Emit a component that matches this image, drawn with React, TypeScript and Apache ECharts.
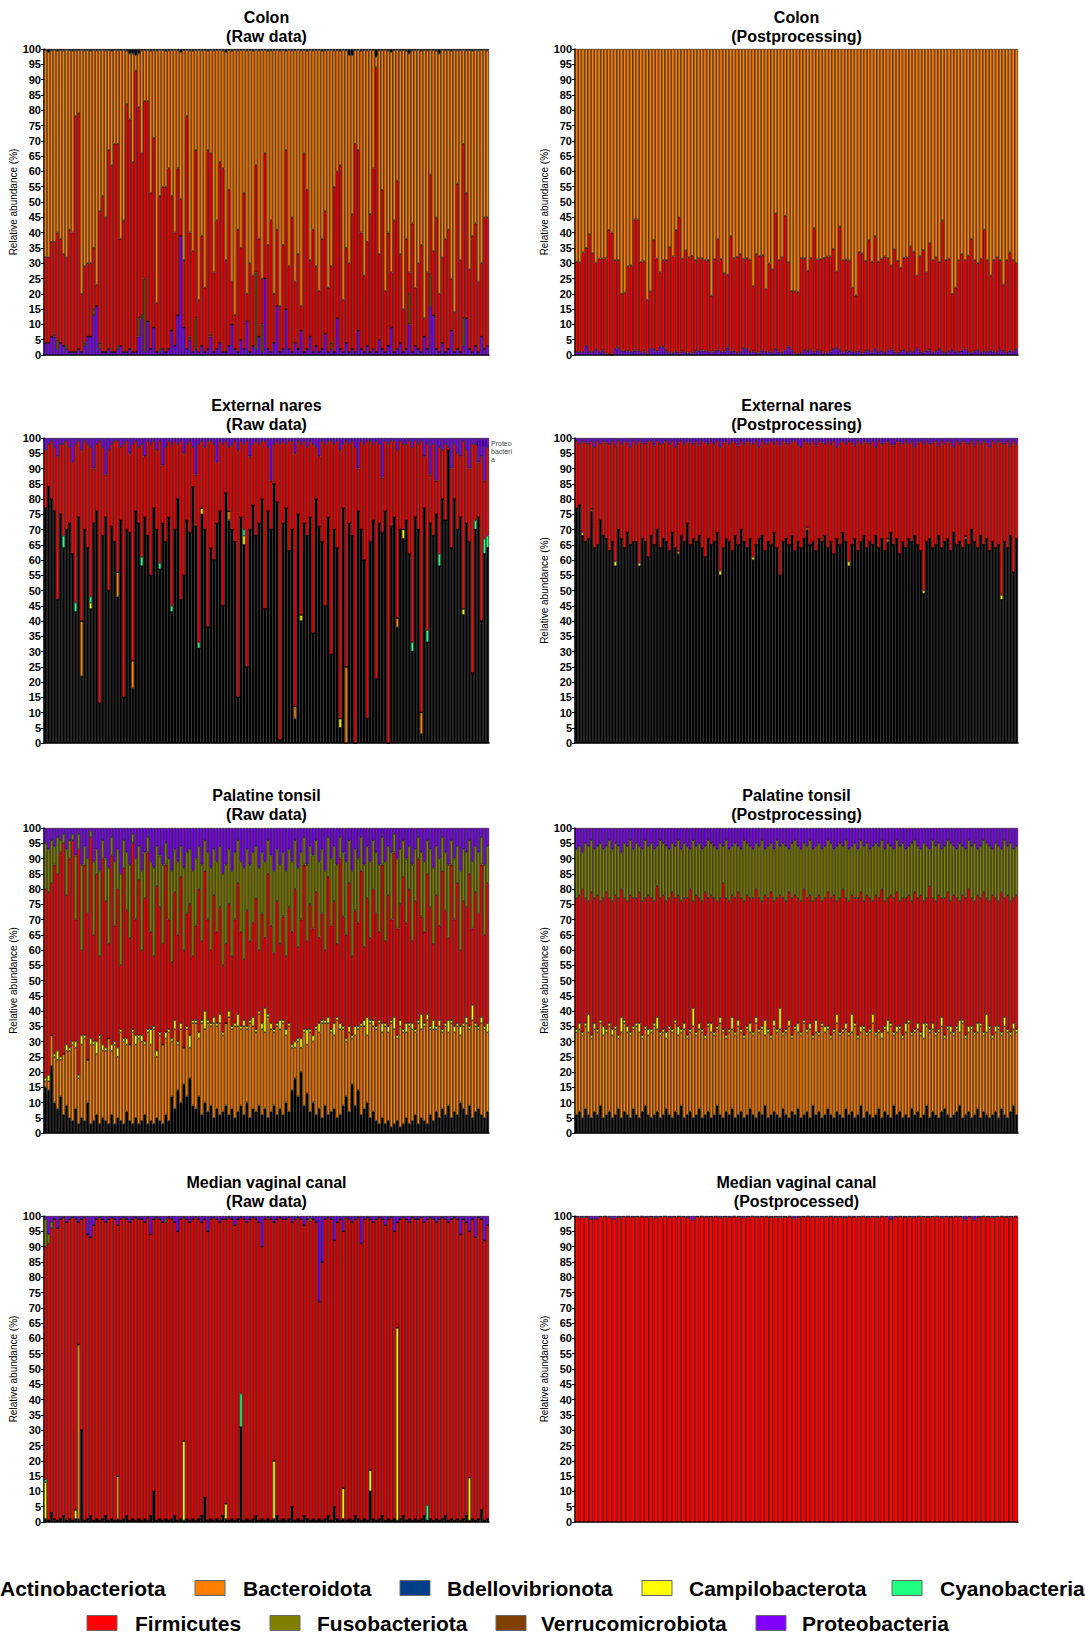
import React, { useEffect, useRef } from "react";
import * as echarts from "echarts";

const FONT = '"Liberation Sans", Arial, Helvetica, sans-serif';

const COLORS: Record<string, string> = {
  Actinobacteriota: "#000000",
  Bacteroidota: "#FF8000",
  Bdellovibrionota: "#003F87",
  Campilobacterota: "#FFFF00",
  Cyanobacteria: "#20FF80",
  Firmicutes: "#FF0000",
  Fusobacteriota: "#808000",
  Verrucomicrobiota: "#804000",
  Proteobacteria: "#8000FF",
};

const Y_TICKS = [0, 5, 10, 15, 20, 25, 30, 35, 40, 45, 50, 55, 60, 65, 70, 75, 80, 85, 90, 95, 100];

// ---------- Colon, raw data ----------
const CR_firTop = [
  32,32,37,37,40,38,33,32,41,40, 78,79,20,29,30,30,35,23,47,52, 45,67,62,69,69,38,44,82,77,63,
  93,81,66,83,83,53,71,17,52,55, 55,61,52,40,61,51,31,78,40,34, 67,18,39,22,67,66,27,44,63,61,
  31,54,24,13,41,35,53,20,30,26, 62,38,25,66,36,44,20,41,16,36, 67,29,45,24,33,16,66,54,31,41,
  29,21,38,47,22,29,55,60,62,18, 35,30,46,69,67,40,26,37,46,61, 94,33,54,21,40,27,44,57,33,15,
  38,27,43,22,30,36,12,27,59,34, 45,20,32,38,41,25,14,56,31,69, 53,28,39,43,24,30,45,45];
const CR_prot = [
  4,4,6,6,2,4,3,2,1,1, 1,2,1,3,6,6,13,16,2,1, 1,2,1,1,2,3,1,1,2,1, 1,6,12,1,11,2,9,1,1,2,
  1,2,8,3,13,39,9,2,5,1, 2,1,3,1,2,6,1,2,4,1, 1,3,10,2,1,5,2,11,1,3, 2,6,1,25,2,1,4,16,1,2,
  15,2,1,4,2,8,1,2,6,1, 3,1,2,7,1,2,1,12,2,1, 4,1,2,1,8,2,1,3,1,2, 1,5,2,1,3,9,1,2,4,1,
  2,10,1,3,2,1,6,2,16,13, 2,1,4,1,2,8,1,2,1,3, 12,2,1,3,1,6,2,3];
const CR_verr = [
  0,0,0,1,3,0,0,1,0,0, 0,0,0,1,0,0,2,0,2,0, 0,0,0,0,1,0,0,0,0,0, 0,6,1,24,0,0,0,0,1,0,
  0,0,0,0,0,0,0,0,1,0, 10,0,0,0,0,1,0,0,0,0, 0,0,0,0,0,0,0,0,0,0, 25,0,9,0,0,0,0,0,0,0,
  0,0,0,0,0,0,0,0,0,0, 0,0,0,0,0,2,0,0,0,0, 0,0,0,0,0,0,0,0,0,0, 0,0,0,0,0,0,0,0,0,0,
  0,10,0,0,0,0,0,0,10,0, 0,0,0,0,0,0,0,0,0,9, 0,0,0,0,0,0,0,0];
const CR_actTop = [
  0.4,1,0.5,0.3,0.6,0.4,0.5,0.3,0.4,0.6, 0.5,0.4,0.3,0.5,0.4,0.6,0.3,0.5,0.4,0.3, 0.5,0.4,0.6,0.3,0.5,0.4,0.3,0.6,1.5,1.5,
  2,1.5,0.5,0.4,0.3,0.6,0.4,0.5,0.3,0.4, 0.6,0.5,0.4,0.3,0.5,1,0.4,0.3,0.5,0.6, 0.4,0.3,0.5,0.4,0.6,0.3,0.5,0.4,0.3,0.5,
  1,0.4,0.6,0.3,0.5,0.4,0.3,0.5,0.4,0.6, 0.3,0.5,0.4,0.3,0.6,0.5,0.4,0.3,0.5,0.4, 0.6,0.3,0.5,0.4,0.3,0.5,0.4,0.6,0.3,0.5,
  0.4,0.3,0.6,0.5,0.4,0.3,0.5,0.4,0.6,0.3, 0.5,2,2,0.4,0.3,0.6,0.4,0.5,0.3,0.4, 2.5,0.5,0.4,0.3,0.6,1,0.4,0.3,0.5,0.4,
  0.6,1.5,0.5,0.4,0.3,0.6,0.4,0.5,0.3,0.4, 0.6,1.5,0.3,0.5,0.4,0.6,0.3,0.5,0.4,0.3, 0.5,0.4,0.6,0.3,0.5,0.4,0.3,0.5];

// ---------- Colon, postprocessing ----------
const CP_firTop = [
  30.5,30.3,33.5,35,39.5,33.3,30.2,31.5,31.5,31.6, 40.9,40,31,31,20,20.4,29,29.3,44.3,44.3,
  30.5,30.6,18,20.8,37.6,31.5,27,31,31,35.3, 32.2,40.8,45,31.5,34.2,31.9,32.4,31,31.6,31.6,
  31,31,19.4,31.3,37.9,31.3,26.8,26.3,38.8,31.7, 32.1,33,31.5,31.6,31.2,22.5,33,32.3,32.6,21.6,
  29.9,28,46.3,31,32,45.5,30.4,21,20.8,20.5, 31.7,31.6,27.6,31.6,41.4,31.2,31.3,31.7,32.2,32.2,
  34.7,27.3,42,31,31.2,30.9,22,19.4,33.6,33.2, 30.8,37.5,30.5,38.8,30.5,31.5,32.2,31.6,29.3,34.6,
  30.8,28.6,31.8,31.9,35.5,33.8,26,32.3,34.3,27, 36.5,31,32,30.5,44,31,31.5,20,22,31,
  33,31,32.5,38,31,30,31.5,41,31,26, 31,32,31,23,31,33.5,31,30,43,31, 17,15.5,31,32,31,30,33,45];
const CP_prot = [
  1,1,1,3,1,1,2,1,1.5,0.5, 0.3,0,2,2.3,1.3,1.4,1.2,1,1.4,1.5, 0.8,1.2,0.3,2,2,1.2,2.7,2.5,1.2,0.8,
  0.6,1.1,0.5,1.2,0.7,0.8,0.5,1.2,1.3,1.5, 1.4,1,1.2,1,1.8,1,1.2,2.4,1,1.4, 0.6,1,2.2,2,0.9,1.2,0.7,0.8,1.5,0.9,
  1.1,0.7,2,1.1,0.6,1.5,2.8,1.5,0.5,0.3, 0.6,1.7,1.3,1.6,0.8,1.5,1.2,0.4,0.8,1.1, 1.9,2.3,1.6,0.8,1.2,1.4,1.1,0.9,1.4,0.5,
  1.2,1.6,0.8,2,1,1.3,0.7,1.5,1.8,1.1, 0.6,1.2,1.7,0.9,1.3,1,2.2,1.1,0.8,1.4, 1.5,0.7,1.2,1.9,1,0.6,1.3,1.7,1.1,0.9,
  1.4,2.1,1,0.8,1.2,1.6,0.7,1.3,1,1.5, 1.1,0.9,1.8,1.2,0.6,1.4,1,2];

// ---------- External nares, raw data ----------
const NR_act = [
  77,84,80,76,47,75,64,70,72,62, 43,74,22,70,64,44,72,76,13,68, 74,50,71,66,48,73,15,70,69,18,
  76,72,58,74,68,55,77,70,57,72, 66,74,43,70,80,47,55,73,69,84, 71,31,75,70,38,64,60,72,76,45,
  82,73,70,66,15,74,65,25,70,78, 68,72,80,44,76,70,85,79,1,72, 77,63,70,8,75,40,72,68,74,36,
  80,71,66,45,74,29,70,64,5,77, 0,72,68,0,76,70,60,8,66,73, 21,72,69,76,0,71,74,38,70,67,
  73,62,30,74,70,3,77,33,72,68, 75,58,80,73,96,64,80,70,74,42, 72,66,23,70,74,40,62,64];
const NR_prot = [
  4,2,1,3,6,2,2,1,3,8, 2,1,4,1,2,3,10,2,1,3, 12,4,2,1,1,3,2,1,5,2, 1,3,2,6,1,2,1,4,1,9,
  3,1,2,1,2,1,5,2,1,3, 12,2,1,3,1,1,2,8,1,2, 1,3,2,1,4,1,2,1,6,2, 1,2,1,1,3,14,2,1,2,1,
  2,1,1,5,1,2,1,3,1,2, 3,6,1,2,1,1,2,1,4,2, 1,2,1,3,10,1,2,1,1,2, 1,2,13,1,2,1,1,4,1,2,
  2,1,3,1,2,1,6,2,12,2, 14,3,4,2,3,10,2,5,6,1, 4,10,2,2,8,6,14,3];
const NR_bac = [[12, 18], [24, 8], [29, 9], [61, 3], [83, 4], [100, 25], [117, 3], [125, 7]];
const NR_cam = [[15, 2], [52, 2], [66, 3], [85, 2], [98, 3], [119, 3], [139, 2]];
const NR_cya = [[6, 4], [10, 3], [15, 2], [32, 3], [38, 2], [42, 2], [51, 2], [66, 2], [122, 3], [127, 4], [131, 4], [143, 3], [146, 5], [147, 4]];

// ---------- External nares, postprocessing ----------
const NP_act = [
  77,78,68,66,67,76,64,65,73,68, 67,63,66,58,70,67,64,69,65,66, 66,58,67,66,61,68,65,70,64,67,
  66,63,69,64,62,68,66,72,65,67, 66,68,64,61,67,65,66,69,55,64, 67,66,63,68,65,70,66,64,67,60,
  65,67,68,63,66,65,69,64,55,66, 67,65,68,63,66,64,67,70,65,66, 63,67,66,68,64,66,62,67,65,69,
  66,58,65,67,63,66,68,64,66,65, 68,64,67,63,66,69,65,67,62,66, 64,67,66,68,65,63,49,66,67,64,
  65,68,64,66,67,63,69,65,66,64, 67,65,70,66,64,68,65,67,63,66, 64,65,47,66,64,68,56,67];
const NP_prot = [
  1,2,1,1.5,2,1,3,1,2,1, 1.5,2,1,2.5,1,2,1,1.5,3,1, 2,1,1.5,2,1,1,2.5,1,2,1.5, 1,2,1,3,1.5,1,2,1,1.5,2,
  1,2.5,1,1.5,2,1,2,1,3,1.5, 1,2,1,1.5,2.5,1,2,1,1.5,2, 1,3,1,2,1.5,1,2,1,2.5,1, 1.5,2,1,1,2,3,1,1.5,2,1,
  2.5,1,1.5,2,1,2,1,3,1.5,1, 2,1,1.5,2.5,1,2,1,1.5,2,1, 3,1,2,1.5,1,2,2.5,1,1.5,2, 1,2,1,3,1.5,1,2,1,2,1.5,
  1,2.5,1,2,1,1.5,3,1,2,1, 1.5,2,1,2.5,1,2,1,1.5,3,1, 2,1,1.5,2,1,2.5,1,2];
const NP_bac = [[5, 0.8], [34, 1], [77, 0.8], [104, 1], [130, 0.8]];
const NP_cam = [[2, 1], [13, 1.5], [21, 1], [48, 1.5], [59, 1], [91, 1.5], [116, 1], [142, 1.5]];

// ---------- Palatine tonsil, raw data ----------
const TR_act = [
  15,14,22,10,8,12,6,9,5,4, 8,3,5,4,10,3,4,6,3,5, 4,3,6,3,5,4,3,7,4,3, 5,3,4,6,3,4,3,5,4,3,
  6,4,12,8,14,10,16,12,18,9, 8,12,6,10,7,9,5,8,6,7, 9,6,8,5,7,9,6,10,5,8, 7,9,6,8,5,7,9,6,8,6,
  10,7,14,18,12,20,9,13,7,10, 6,8,5,9,6,7,8,5,6,9, 12,7,16,9,14,6,8,10,5,7, 4,3,5,3,4,2,3,4,2,3,
  5,3,4,6,3,5,4,3,6,4, 7,5,8,6,9,5,7,6,10,8, 6,9,5,7,8,6,5,7];
const TR_bacTop = [
  17,17,32,25,24,24,26,27,27,29, 28,18,29,31,24,29,29,26,31,27, 27,31,27,29,25,33,30,29,29,33,
  29,31,30,29,33,29,34,25,32,29, 31,33,30,34,29,34,28,34,28,36, 36,31,36,34,36,35,36,35,36,32,
  36,38,34,35,35,34,35,34,36,35, 33,39,34,33,38,34,33,35,34,36, 32,35,28,28,30,28,33,29,33,30,
  34,33,36,36,36,33,32,37,34,34, 30,33,31,32,34,35,35,32,36,35, 34,36,33,35,33,36,34,31,35,33,
  33,35,34,33,36,34,35,37,34,34, 34,35,33,35,33,36,33,35,32,35, 36,34,37,35,34,36,34,33];
const TR_cam = [
  1,2,0,1,3,1,0,2,1,1, 2,1,3,1,0,2,1,4,1,2, 1,0,2,1,3,1,1,2,0,1, 3,1,2,1,1,5,1,2,1,0,
  2,1,1,3,1,2,0,1,4,1, 1,2,1,6,1,1,2,1,3,1, 0,2,1,1,4,1,2,1,1,3, 1,1,2,8,1,2,1,1,3,1,
  2,1,1,2,1,3,1,5,1,2, 1,3,1,1,2,1,4,1,2,1, 1,2,1,3,1,1,2,6,1,2, 1,1,3,1,2,1,4,1,2,1,
  3,1,2,1,1,5,1,2,1,3, 1,2,1,1,4,1,2,1,3,1, 2,1,5,1,1,2,1,3];
const TR_firTop = [
  80,79,82,88,85,92,95,78,90,96, 70,93,60,88,72,97,65,85,58,90, 76,62,91,68,80,55,87,73,64,95,
  70,83,60,77,92,66,58,81,74,62, 88,70,56,79,65,84,60,72,75,58, 68,80,63,86,70,60,78,66,74,55,
  62,75,58,70,82,66,57,73,63,69, 77,60,72,64,85,68,59,76,62,71, 58,74,66,80,61,70,88,63,75,67,
  79,64,72,60,84,68,76,62,90,71, 65,82,58,73,69,86,61,77,64,80, 72,66,88,63,78,70,92,67,75,84,
  69,80,63,76,90,71,66,85,74,62, 78,68,86,73,64,88,70,82,60,76, 74,85,67,79,72,88,65,82];
const TR_fusTop = [
  95,93,96,94,97,96,98,93,96,98, 91,98,88,94,90,99,89,93,86,96, 90,87,97,89,93,85,96,92,88,98,
  90,94,86,92,97,89,87,94,91,88, 95,90,86,93,89,94,87,92,93,86, 90,94,88,96,92,87,93,89,94,85,
  88,93,86,92,96,89,87,93,88,92, 94,87,92,89,96,91,86,93,88,92, 86,93,89,96,87,92,97,88,94,91,
  96,89,93,86,97,90,94,88,97,92, 89,96,86,93,90,97,88,94,89,96, 92,88,97,89,94,92,98,90,93,96,
  90,94,88,93,97,92,89,96,93,87, 94,90,97,92,88,96,90,94,86,93, 92,96,89,94,92,97,88,94];

// ---------- Palatine tonsil, postprocessing ----------
const TP_act = [
  6,7,5,8,6,5,7,6,9,5, 6,7,5,6,8,5,7,6,5,8, 6,5,7,9,6,5,6,7,5,6, 8,6,5,7,6,9,5,6,7,5,
  6,8,5,6,7,5,6,9,6,5, 7,6,8,5,6,7,5,6,8,6, 5,7,6,9,5,6,7,6,5,8, 6,5,7,6,8,5,6,7,5,9,
  6,7,5,6,8,6,5,7,6,5, 8,6,7,5,6,9,5,7,6,5, 6,8,5,7,6,5,9,6,7,5, 6,5,8,6,7,5,6,9,5,7,
  6,5,7,8,6,5,6,7,9,5, 6,7,5,6,8,5,7,6,5,6, 7,5,8,6,5,7,9,6];
const TP_bacTop = [
  33,34,32,35,33,31,34,33,36,32, 33,35,32,34,31,33,36,33,32,34, 35,33,31,34,32,33,35,34,32,33,
  31,34,33,36,32,33,34,31,33,35, 32,34,33,31,35,33,32,34,36,33, 31,33,34,32,35,33,31,34,33,32,
  36,33,34,32,33,31,35,33,34,32, 33,35,31,34,33,32,36,33,34,31, 33,32,35,33,34,31,33,36,32,33,
  34,32,33,35,31,33,34,32,33,36, 32,33,31,34,33,35,32,33,34,31, 33,36,32,33,34,32,31,35,33,34,
  32,33,35,31,34,33,32,34,33,36, 31,33,34,32,33,35,32,33,34,31, 33,34,32,35,33,32,34,33];
const TP_cam = [
  1,2,1,1,6,1,2,1,1,3, 1,1,2,1,1,5,1,2,1,1, 1,3,1,1,2,1,1,4,1,1, 2,1,1,1,3,1,2,1,1,6,
  1,2,1,1,1,3,1,1,2,1, 1,1,4,1,2,1,1,1,3,1, 2,1,1,5,1,1,2,1,7,1, 1,2,1,1,3,1,1,1,2,1,
  4,1,1,2,1,1,1,3,1,1, 2,1,6,1,1,2,1,1,1,3, 1,1,2,1,4,1,1,2,1,1, 3,1,1,1,2,1,5,1,1,2,
  1,1,3,1,1,2,1,1,4,1, 1,2,1,1,3,1,1,6,1,1, 2,1,1,3,1,1,2,1];
const TP_firTop = [
  77,78,80,77,76,79,77,78,76,77, 79,77,76,78,77,80,77,76,78,77, 77,79,76,77,78,77,76,81,77,78,
  76,77,79,77,78,76,77,77,80,76, 78,77,76,79,77,78,77,76,77,82, 77,76,78,77,79,77,76,78,77,77,
  80,77,76,78,77,79,76,77,78,77, 76,79,77,78,77,76,80,77,78,76, 77,78,76,77,79,77,78,76,77,80,
  77,76,78,77,77,79,76,78,77,76, 78,77,80,76,77,78,77,79,76,77, 77,78,76,79,77,78,76,77,81,77,
  76,78,77,77,79,76,78,77,76,78, 77,80,77,76,78,77,79,77,76,78, 77,76,79,77,78,76,77,78];
const TP_fusTop = [
  93,94,92,95,94,96,93,94,95,93, 94,96,93,95,94,92,95,94,96,93, 95,94,93,96,94,95,93,94,96,95,
  94,93,95,94,96,93,95,94,93,96, 94,95,93,94,96,95,94,93,95,94, 96,93,94,95,94,93,96,95,94,93,
  95,94,96,93,94,95,93,96,94,95, 94,93,95,96,94,93,95,94,96,93, 94,95,93,94,96,95,93,94,95,94,
  96,93,94,95,93,96,94,95,93,94, 95,94,96,93,95,94,93,96,94,95, 93,94,95,96,94,93,95,94,93,96,
  94,95,93,94,96,95,94,93,95,94, 93,96,94,95,93,94,96,95,94,93, 95,94,93,96,94,95,93,94];

// ---------- Median vaginal canal, raw data ----------
const VR_act = [
  1,0.5,3,1,0.5,1,2,0.5,1,0.5, 1,1,30,0.5,1,2,0.5,1,0.5,1, 2,0.5,1,0.5,1,0.5,1,2,0.5,1,
  0.5,1,0.5,1,0.5,2,10,0.5,1,0.5, 1,0.5,1,2,0.5,1,0.5,1,0.5,1, 0.5,1,2,8,0.5,1,0.5,1,0.5,2,
  1,0.5,1,0.5,1,31,0.5,1,0.5,1, 2,0.5,1,0.5,1,0.5,1,2,0.5,1, 0.5,1,5,0.5,1,0.5,2,1,0.5,1,
  0.5,1,0.5,1,2,0.5,5,1,0.5,1, 0.5,1,0.5,2,1,0.5,1,0.5,10,1, 0.5,1,2,0.5,1,0.5,1,0.5,1,2,
  0.5,1,0.5,1,0.5,1,2,0.5,1,0.5, 1,0.5,1,2,0.5,1,0.5,1,0.5,1, 2,0.5,1,0.5,1,4,0.5,1];
const VR_prot = [
  1,6,2,1,4,1,0.5,2,1,0.5, 1,2,1,0.5,6,7,3,1,0.5,1, 2,1,0.5,1,3,1,0.5,1,2,1, 0.5,1,1,2,0.5,6,1,0.5,1,2,
  1,0.5,1,2,5,1,0.5,1,2,1, 0.5,1,2,1,5,1,0.5,1,2,1, 1,0.5,1,3,1,0.5,1,2,1,0.5, 1,2,10,1,0.5,1,2,1,0.5,1,
  1,0.5,2,1,0.5,1,3,1,0.5,1, 2,28,15,1,0.5,1,8,2,1,5, 0.5,1,2,1,0.5,9,1,0.5,1,2, 1,0.5,1,3,1,0.5,5,2,1,0.5,
  1,2,0.5,1,1,0.5,2,1,0.5,1, 2,1,0.5,1,2,1,0.5,1,6,1, 2,5,1,7,0.5,1,8,3];
const VR_bac = [[11, 57], [24, 14]];
const VR_cam = [[0, 12], [10, 3], [46, 26], [60, 5], [76, 19], [99, 10], [108, 7], [117, 63], [141, 14]];
const VR_cya = [[0, 1], [65, 11], [127, 5]];
const VR_fus = [[0, 9], [1, 3], [2, 2], [40, 1], [88, 1]];

// ---------- Median vaginal canal, postprocessed ----------
const VP_prot = [
  0.3,0.5,0.4,1,1,0.3,0.2,0.5,1,0.4, 0.3,0.2,0.4,0.3,0.2,0.4,0.3,0.5,0.3,0.2, 0.4,0.3,0.2,0.3,0.5,1.2,0.3,0.2,0.4,0.3,
  0.2,0.5,0.3,0.4,0.2,0.3,0.5,0.3,0.2,0.4, 0.3,0.2,0.4,0.3,0.5,0.3,0.2,0.8,0.4,0.3, 0.2,0.4,0.3,0.5,0.3,0.2,0.4,0.3,0.6,0.2,
  0.4,0.3,0.2,0.5,0.3,0.4,0.2,0.3,1,0.3, 0.2,0.4,0.3,0.5,0.2,0.3,0.4,0.3,0.2,0.5, 0.3,0.4,0.2,0.3,1.1,0.3,1.2,0.4,0.2,0.3,
  0.5,0.3,0.2,0.4,0.3,0.2];

// ---------- helpers (derive segment sizes from read boundaries) ----------
function fromPairs(n: number, pairs: number[][]): number[] {
  const a: number[] = [];
  for (let i = 0; i < n; i++) a.push(0);
  pairs.forEach(([i, v]) => { a[i] = v; });
  return a;
}
function diff(top: number[], ...parts: number[][]): number[] {
  return top.map((v, i) => {
    let r = v;
    parts.forEach((p) => { r -= p[i]; });
    return Math.max(0, +r.toFixed(2));
  });
}
function rest(...parts: number[][]): number[] {
  const n = parts[0].length;
  const hundred: number[] = [];
  for (let i = 0; i < n; i++) hundred.push(100);
  return diff(hundred, ...parts);
}

type Panel = { title: string; col: number; row: number; yName: boolean; layers: [string, number[]][] };

function buildPanels(): Panel[] {
  const nr = NR_act.length;
  const nrBac = fromPairs(nr, NR_bac), nrCam = fromPairs(nr, NR_cam), nrCya = fromPairs(nr, NR_cya);
  const npBac = fromPairs(NP_act.length, NP_bac), npCam = fromPairs(NP_act.length, NP_cam);
  const vr = VR_act.length;
  const vrBac = fromPairs(vr, VR_bac), vrCam = fromPairs(vr, VR_cam), vrCya = fromPairs(vr, VR_cya), vrFus = fromPairs(vr, VR_fus);
  return [
    { title: "Colon\n(Raw data)", col: 0, row: 0, yName: true, layers: [
      ["Proteobacteria", CR_prot],
      ["Verrucomicrobiota", CR_verr],
      ["Firmicutes", diff(CR_firTop, CR_prot, CR_verr)],
      ["Bacteroidota", rest(CR_firTop, CR_actTop)],
      ["Actinobacteriota", CR_actTop],
    ] },
    { title: "Colon\n(Postprocessing)", col: 1, row: 0, yName: true, layers: [
      ["Proteobacteria", CP_prot],
      ["Firmicutes", diff(CP_firTop, CP_prot)],
      ["Bacteroidota", rest(CP_firTop)],
    ] },
    { title: "External nares\n(Raw data)", col: 0, row: 1, yName: false, layers: [
      ["Actinobacteriota", NR_act],
      ["Bacteroidota", nrBac],
      ["Campilobacterota", nrCam],
      ["Cyanobacteria", nrCya],
      ["Firmicutes", rest(NR_act, nrBac, nrCam, nrCya, NR_prot)],
      ["Proteobacteria", NR_prot],
    ] },
    { title: "External nares\n(Postprocessing)", col: 1, row: 1, yName: true, layers: [
      ["Actinobacteriota", NP_act],
      ["Bacteroidota", npBac],
      ["Campilobacterota", npCam],
      ["Firmicutes", rest(NP_act, npBac, npCam, NP_prot)],
      ["Proteobacteria", NP_prot],
    ] },
    { title: "Palatine tonsil\n(Raw data)", col: 0, row: 2, yName: true, layers: [
      ["Actinobacteriota", TR_act],
      ["Bacteroidota", diff(TR_bacTop, TR_act)],
      ["Campilobacterota", TR_cam],
      ["Firmicutes", diff(TR_firTop, TR_bacTop, TR_cam)],
      ["Fusobacteriota", diff(TR_fusTop, TR_firTop)],
      ["Proteobacteria", rest(TR_fusTop)],
    ] },
    { title: "Palatine tonsil\n(Postprocessing)", col: 1, row: 2, yName: true, layers: [
      ["Actinobacteriota", TP_act],
      ["Bacteroidota", diff(TP_bacTop, TP_act)],
      ["Campilobacterota", TP_cam],
      ["Firmicutes", diff(TP_firTop, TP_bacTop, TP_cam)],
      ["Fusobacteriota", diff(TP_fusTop, TP_firTop)],
      ["Proteobacteria", rest(TP_fusTop)],
    ] },
    { title: "Median vaginal canal\n(Raw data)", col: 0, row: 3, yName: true, layers: [
      ["Actinobacteriota", VR_act],
      ["Bacteroidota", vrBac],
      ["Campilobacterota", vrCam],
      ["Cyanobacteria", vrCya],
      ["Firmicutes", rest(VR_act, vrBac, vrCam, vrCya, vrFus, VR_prot)],
      ["Fusobacteriota", vrFus],
      ["Proteobacteria", VR_prot],
    ] },
    { title: "Median vaginal canal\n(Postprocessed)", col: 1, row: 3, yName: true, layers: [
      ["Firmicutes", rest(VP_prot)],
      ["Proteobacteria", VP_prot],
    ] },
  ];
}

const COL_LEFT = [44, 575];
const COL_WIDTH = [445, 443];
const ROW_TOP = [49, 438, 828, 1216];
const ROW_HEIGHT = [306, 305, 305, 306];
const TITLE_TOP = [8, 396, 786, 1173];
const COL_CENTER = [266.5, 796.5];

const LEGEND_ROWS: { name: string; swatch: number | null; text: number; y: number }[] = [
  { name: "Actinobacteriota", swatch: null, text: 0, y: 1588 },
  { name: "Bacteroidota", swatch: 195, text: 243, y: 1588 },
  { name: "Bdellovibrionota", swatch: 400, text: 447, y: 1588 },
  { name: "Campilobacterota", swatch: 642, text: 689, y: 1588 },
  { name: "Cyanobacteria", swatch: 892, text: 940, y: 1588 },
  { name: "Firmicutes", swatch: 87, text: 135, y: 1623 },
  { name: "Fusobacteriota", swatch: 270, text: 317, y: 1623 },
  { name: "Verrucomicrobiota", swatch: 496, text: 541, y: 1623 },
  { name: "Proteobacteria", swatch: 756, text: 802, y: 1623 },
];

export default function App() {
  const ref = useRef<HTMLDivElement>(null);
  useEffect(() => {
    if (!ref.current) return;
    const chart = echarts.init(ref.current, undefined, { renderer: "svg" });
    const panels = buildPanels();
    const grids: any[] = [];
    const xAxes: any[] = [];
    const yAxes: any[] = [];
    const series: any[] = [];
    const graphics: any[] = [];
    panels.forEach((p, k) => {
      const n = p.layers[0][1].length;
      const cats: string[] = [];
      for (let i = 0; i < n; i++) cats.push(String(i + 1));
      grids.push({ left: COL_LEFT[p.col], top: ROW_TOP[p.row], width: COL_WIDTH[p.col], height: ROW_HEIGHT[p.row], containLabel: false });
      xAxes.push({
        type: "category", gridIndex: k, data: cats,
        axisLine: { show: true, lineStyle: { color: "#000", width: 1.5 } },
        axisTick: { show: false }, axisLabel: { show: false }, splitLine: { show: false },
      });
      yAxes.push({
        type: "value", gridIndex: k, min: 0, max: 100, interval: 5,
        name: p.yName ? "Relative abundance (%)" : "",
        nameLocation: "middle", nameGap: p.col === 0 ? 22 : 23,
        nameTextStyle: { fontSize: 10, color: "#000", fontFamily: FONT },
        axisLine: { show: true, lineStyle: { color: "#000", width: 1.5 } },
        axisTick: { show: true, length: 3, lineStyle: { color: "#000", width: 1 } },
        axisLabel: { show: true, fontSize: 11, fontWeight: "bold", color: "#000", fontFamily: FONT, margin: 3,
          formatter: (v: number) => (Y_TICKS.indexOf(v) >= 0 ? String(v) : "") },
        splitLine: { show: false },
      });
      p.layers.forEach(([name, data]) => {
        series.push({
          type: "bar", name, stack: "s" + k, xAxisIndex: k, yAxisIndex: k, data,
          barCategoryGap: "0%", barGap: "0%", silent: true,
          itemStyle: { color: COLORS[name], borderColor: "#000", borderWidth: 0.6 },
          emphasis: { disabled: true },
        });
      });
      graphics.push({
        type: "text", x: COL_CENTER[p.col], y: TITLE_TOP[p.row],
        style: { text: p.title, fill: "#000", fontSize: 16, fontWeight: "bold", fontFamily: FONT, align: "center", verticalAlign: "top", lineHeight: 19 },
      });
    });
    // small stray legend fragment at the right edge of the nares raw panel
    graphics.push({ type: "rect", shape: { x: 477, y: 441, width: 10, height: 5 }, style: { fill: COLORS.Proteobacteria, stroke: "#000", lineWidth: 0.5 } });
    graphics.push({ type: "text", x: 491, y: 439, style: { text: "Proteo\nbacteri\na", fill: "#444", fontSize: 7, fontFamily: FONT, lineHeight: 8, align: "left", verticalAlign: "top" } });
    LEGEND_ROWS.forEach((it) => {
      if (it.swatch !== null) {
        graphics.push({ type: "rect", shape: { x: it.swatch, y: it.y - 7.5, width: 30, height: 15 }, style: { fill: COLORS[it.name], stroke: "#666", lineWidth: 1 } });
      }
      graphics.push({ type: "text", x: it.text, y: it.y, style: { text: it.name, fill: "#000", fontSize: 21, fontWeight: "bold", fontFamily: FONT, align: "left", verticalAlign: "middle" } });
    });
    chart.setOption({
      animation: false,
      backgroundColor: "#fff",
      grid: grids, xAxis: xAxes, yAxis: yAxes, series,
      graphic: graphics,
      tooltip: { show: false },
    });
    return () => chart.dispose();
  }, []);
  return <div ref={ref} style={{ position: "absolute", left: 0, top: 0, width: 1085, height: 1636 }} />;
}
